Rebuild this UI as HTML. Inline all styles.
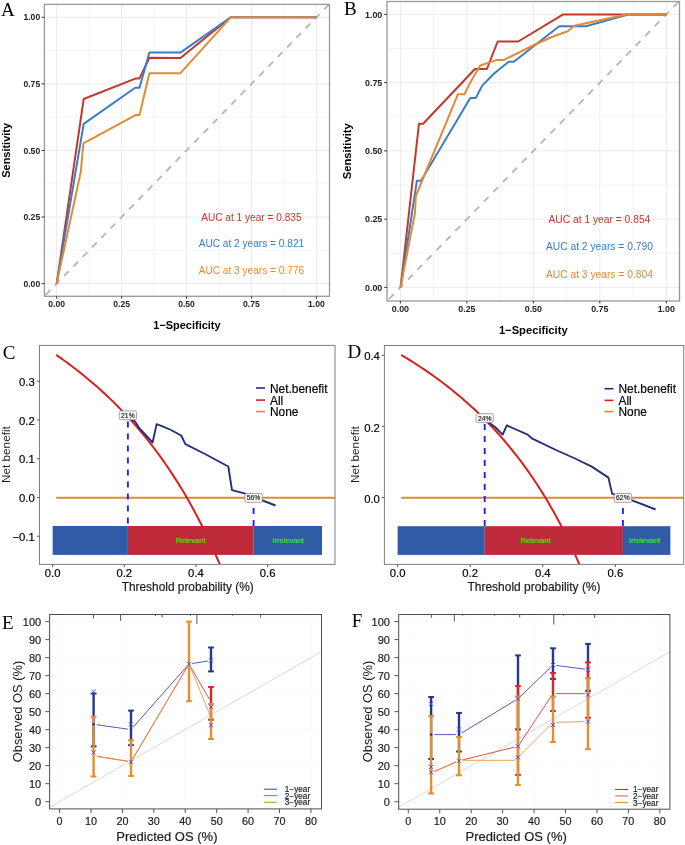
<!DOCTYPE html>
<html><head><meta charset="utf-8"><style>
html,body{margin:0;padding:0;background:#fff;}
svg{display:block;will-change:transform;}
</style></head><body>
<svg width="685" height="845" viewBox="0 0 685 845">
<rect x="0" y="0" width="685" height="845" fill="#fff"/>
<defs><clipPath id="clipA"><rect x="44.4" y="4.4" width="285.1" height="291.9"/></clipPath></defs>
<line x1="56.7" y1="4.4" x2="56.7" y2="296.3" stroke="#ebebeb" stroke-width="1" />
<line x1="44.4" y1="283.6" x2="329.5" y2="283.6" stroke="#ebebeb" stroke-width="1" />
<line x1="89.16" y1="4.4" x2="89.16" y2="296.3" stroke="#ebebeb" stroke-width="0.6" />
<line x1="44.4" y1="250.31" x2="329.5" y2="250.31" stroke="#ebebeb" stroke-width="0.6" />
<line x1="121.62" y1="4.4" x2="121.62" y2="296.3" stroke="#ebebeb" stroke-width="1" />
<line x1="44.4" y1="217.03" x2="329.5" y2="217.03" stroke="#ebebeb" stroke-width="1" />
<line x1="154.09" y1="4.4" x2="154.09" y2="296.3" stroke="#ebebeb" stroke-width="0.6" />
<line x1="44.4" y1="183.74" x2="329.5" y2="183.74" stroke="#ebebeb" stroke-width="0.6" />
<line x1="186.55" y1="4.4" x2="186.55" y2="296.3" stroke="#ebebeb" stroke-width="1" />
<line x1="44.4" y1="150.45" x2="329.5" y2="150.45" stroke="#ebebeb" stroke-width="1" />
<line x1="219.01" y1="4.4" x2="219.01" y2="296.3" stroke="#ebebeb" stroke-width="0.6" />
<line x1="44.4" y1="117.16" x2="329.5" y2="117.16" stroke="#ebebeb" stroke-width="0.6" />
<line x1="251.47" y1="4.4" x2="251.47" y2="296.3" stroke="#ebebeb" stroke-width="1" />
<line x1="44.4" y1="83.88" x2="329.5" y2="83.88" stroke="#ebebeb" stroke-width="1" />
<line x1="283.94" y1="4.4" x2="283.94" y2="296.3" stroke="#ebebeb" stroke-width="0.6" />
<line x1="44.4" y1="50.59" x2="329.5" y2="50.59" stroke="#ebebeb" stroke-width="0.6" />
<line x1="316.4" y1="4.4" x2="316.4" y2="296.3" stroke="#ebebeb" stroke-width="1" />
<line x1="44.4" y1="17.3" x2="329.5" y2="17.3" stroke="#ebebeb" stroke-width="1" />
<g clip-path="url(#clipA)">
<line x1="44.4" y1="296.21" x2="329.5" y2="3.87" stroke="#b5b5b5" stroke-width="1.8" stroke-dasharray="6.8 6.5" stroke-dashoffset="-1.65"/>
<polyline points="56.7,283.6 83.7,99 136,78.4 139.5,78.4 149.4,57.8 180.4,58 230.8,17.3 316.4,17.3" fill="none" stroke="#bf3a2c" stroke-width="2" stroke-linejoin="round" />
<polyline points="56.7,283.6 83.7,123.9 135.2,87.8 139.5,87.8 149.4,52.6 180.4,52.6 230.8,17.3 316.4,17.3" fill="none" stroke="#3b7dc2" stroke-width="2" stroke-linejoin="round" />
<polyline points="56.7,283.6 80.8,171.8 83.4,143.3 136,114.9 139.5,114.9 149.4,73.2 180.4,73.2 230.8,17.3 316.4,17.3" fill="none" stroke="#e38a35" stroke-width="2" stroke-linejoin="round" />
</g>
<rect x="44.4" y="4.4" width="285.1" height="291.9" fill="none" stroke="#999" stroke-width="1.3"/>
<line x1="41.6" y1="283.6" x2="44.4" y2="283.6" stroke="#333" stroke-width="1" />
<text x="40.2" y="286.7" font-size="8.6" fill="#222" text-anchor="end" font-weight="bold" font-family='"Liberation Sans", sans-serif'  >0.00</text>
<line x1="56.7" y1="296.3" x2="56.7" y2="298.8" stroke="#333" stroke-width="1" />
<text x="56.7" y="306.8" font-size="8.6" fill="#222" text-anchor="middle" font-weight="bold" font-family='"Liberation Sans", sans-serif'  >0.00</text>
<line x1="41.6" y1="217.03" x2="44.4" y2="217.03" stroke="#333" stroke-width="1" />
<text x="40.2" y="220.12" font-size="8.6" fill="#222" text-anchor="end" font-weight="bold" font-family='"Liberation Sans", sans-serif'  >0.25</text>
<line x1="121.62" y1="296.3" x2="121.62" y2="298.8" stroke="#333" stroke-width="1" />
<text x="121.62" y="306.8" font-size="8.6" fill="#222" text-anchor="middle" font-weight="bold" font-family='"Liberation Sans", sans-serif'  >0.25</text>
<line x1="41.6" y1="150.45" x2="44.4" y2="150.45" stroke="#333" stroke-width="1" />
<text x="40.2" y="153.55" font-size="8.6" fill="#222" text-anchor="end" font-weight="bold" font-family='"Liberation Sans", sans-serif'  >0.50</text>
<line x1="186.55" y1="296.3" x2="186.55" y2="298.8" stroke="#333" stroke-width="1" />
<text x="186.55" y="306.8" font-size="8.6" fill="#222" text-anchor="middle" font-weight="bold" font-family='"Liberation Sans", sans-serif'  >0.50</text>
<line x1="41.6" y1="83.88" x2="44.4" y2="83.88" stroke="#333" stroke-width="1" />
<text x="40.2" y="86.97" font-size="8.6" fill="#222" text-anchor="end" font-weight="bold" font-family='"Liberation Sans", sans-serif'  >0.75</text>
<line x1="251.47" y1="296.3" x2="251.47" y2="298.8" stroke="#333" stroke-width="1" />
<text x="251.47" y="306.8" font-size="8.6" fill="#222" text-anchor="middle" font-weight="bold" font-family='"Liberation Sans", sans-serif'  >0.75</text>
<line x1="41.6" y1="17.3" x2="44.4" y2="17.3" stroke="#333" stroke-width="1" />
<text x="40.2" y="20.4" font-size="8.6" fill="#222" text-anchor="end" font-weight="bold" font-family='"Liberation Sans", sans-serif'  >1.00</text>
<line x1="316.4" y1="296.3" x2="316.4" y2="298.8" stroke="#333" stroke-width="1" />
<text x="316.4" y="306.8" font-size="8.6" fill="#222" text-anchor="middle" font-weight="bold" font-family='"Liberation Sans", sans-serif'  >1.00</text>
<text x="186.95" y="329" font-size="10.95" fill="#000" text-anchor="middle" font-weight="bold" font-family='"Liberation Sans", sans-serif'  >1&#8722;Specificity</text>
<text x="0" y="0" transform="translate(10.1,150.35) rotate(-90)" font-size="10.95" fill="#000" text-anchor="middle" font-weight="bold" font-family='"Liberation Sans", sans-serif'>Sensitivity</text>
<text x="251.4" y="220.8" font-size="10.15" fill="#bf3a2c" text-anchor="middle" font-weight="normal" font-family='"Liberation Sans", sans-serif'  >AUC at 1 year = 0.835</text>
<text x="251.4" y="247.4" font-size="10.15" fill="#3b7dc2" text-anchor="middle" font-weight="normal" font-family='"Liberation Sans", sans-serif'  >AUC at 2 years = 0.821</text>
<text x="251.4" y="274.2" font-size="10.15" fill="#e38a35" text-anchor="middle" font-weight="normal" font-family='"Liberation Sans", sans-serif'  >AUC at 3 years = 0.776</text>
<text x="0.9" y="15.7" font-size="19" fill="#000" text-anchor="start" font-weight="normal" font-family='"Liberation Serif", serif'  >A</text>
<defs><clipPath id="clipB"><rect x="387" y="1.5" width="292.5" height="299.5"/></clipPath></defs>
<line x1="400.4" y1="1.5" x2="400.4" y2="301" stroke="#ebebeb" stroke-width="1" />
<line x1="387" y1="287.4" x2="679.5" y2="287.4" stroke="#ebebeb" stroke-width="1" />
<line x1="433.64" y1="1.5" x2="433.64" y2="301" stroke="#ebebeb" stroke-width="0.6" />
<line x1="387" y1="253.27" x2="679.5" y2="253.27" stroke="#ebebeb" stroke-width="0.6" />
<line x1="466.88" y1="1.5" x2="466.88" y2="301" stroke="#ebebeb" stroke-width="1" />
<line x1="387" y1="219.15" x2="679.5" y2="219.15" stroke="#ebebeb" stroke-width="1" />
<line x1="500.11" y1="1.5" x2="500.11" y2="301" stroke="#ebebeb" stroke-width="0.6" />
<line x1="387" y1="185.02" x2="679.5" y2="185.02" stroke="#ebebeb" stroke-width="0.6" />
<line x1="533.35" y1="1.5" x2="533.35" y2="301" stroke="#ebebeb" stroke-width="1" />
<line x1="387" y1="150.9" x2="679.5" y2="150.9" stroke="#ebebeb" stroke-width="1" />
<line x1="566.59" y1="1.5" x2="566.59" y2="301" stroke="#ebebeb" stroke-width="0.6" />
<line x1="387" y1="116.77" x2="679.5" y2="116.77" stroke="#ebebeb" stroke-width="0.6" />
<line x1="599.82" y1="1.5" x2="599.82" y2="301" stroke="#ebebeb" stroke-width="1" />
<line x1="387" y1="82.65" x2="679.5" y2="82.65" stroke="#ebebeb" stroke-width="1" />
<line x1="633.06" y1="1.5" x2="633.06" y2="301" stroke="#ebebeb" stroke-width="0.6" />
<line x1="387" y1="48.52" x2="679.5" y2="48.52" stroke="#ebebeb" stroke-width="0.6" />
<line x1="666.3" y1="1.5" x2="666.3" y2="301" stroke="#ebebeb" stroke-width="1" />
<line x1="387" y1="14.4" x2="679.5" y2="14.4" stroke="#ebebeb" stroke-width="1" />
<g clip-path="url(#clipB)">
<line x1="387" y1="301.16" x2="679.5" y2="0.85" stroke="#b5b5b5" stroke-width="1.8" stroke-dasharray="6.9 6.7" stroke-dashoffset="-2.8"/>
<polyline points="400.6,287.4 419,123.7 423.1,123.7 475,69 486.9,69 497.7,41.5 518.2,41.5 563.2,14.4 666.3,14.4" fill="none" stroke="#bf3a2c" stroke-width="2" stroke-linejoin="round" />
<polyline points="400.6,287.4 416.9,180.7 421,180.7 470.3,97.9 475.8,97.9 482.4,85.4 494.1,73.5 508.7,61.8 513.8,61.8 559.2,26.2 585.9,26.2 629,14.4 666.3,14.4" fill="none" stroke="#3b7dc2" stroke-width="2" stroke-linejoin="round" />
<polyline points="400.6,287.4 415,212.7 415.8,196 457.9,94.3 464.5,94.3 470.3,82.4 480.2,65.5 496.3,60.1 503.6,60.1 534.2,45 551.8,37 567.7,31.3 574.3,25.8 626.4,14.4 666.3,14.4" fill="none" stroke="#e38a35" stroke-width="2" stroke-linejoin="round" />
</g>
<rect x="387" y="1.5" width="292.5" height="299.5" fill="none" stroke="#999" stroke-width="1.3"/>
<line x1="384.2" y1="287.4" x2="387" y2="287.4" stroke="#333" stroke-width="1" />
<text x="382.3" y="290.6" font-size="8.9" fill="#222" text-anchor="end" font-weight="bold" font-family='"Liberation Sans", sans-serif'  >0.00</text>
<line x1="400.4" y1="301" x2="400.4" y2="303.5" stroke="#333" stroke-width="1" />
<text x="400.4" y="311.8" font-size="8.9" fill="#222" text-anchor="middle" font-weight="bold" font-family='"Liberation Sans", sans-serif'  >0.00</text>
<line x1="384.2" y1="219.15" x2="387" y2="219.15" stroke="#333" stroke-width="1" />
<text x="382.3" y="222.35" font-size="8.9" fill="#222" text-anchor="end" font-weight="bold" font-family='"Liberation Sans", sans-serif'  >0.25</text>
<line x1="466.88" y1="301" x2="466.88" y2="303.5" stroke="#333" stroke-width="1" />
<text x="466.88" y="311.8" font-size="8.9" fill="#222" text-anchor="middle" font-weight="bold" font-family='"Liberation Sans", sans-serif'  >0.25</text>
<line x1="384.2" y1="150.9" x2="387" y2="150.9" stroke="#333" stroke-width="1" />
<text x="382.3" y="154.1" font-size="8.9" fill="#222" text-anchor="end" font-weight="bold" font-family='"Liberation Sans", sans-serif'  >0.50</text>
<line x1="533.35" y1="301" x2="533.35" y2="303.5" stroke="#333" stroke-width="1" />
<text x="533.35" y="311.8" font-size="8.9" fill="#222" text-anchor="middle" font-weight="bold" font-family='"Liberation Sans", sans-serif'  >0.50</text>
<line x1="384.2" y1="82.65" x2="387" y2="82.65" stroke="#333" stroke-width="1" />
<text x="382.3" y="85.85" font-size="8.9" fill="#222" text-anchor="end" font-weight="bold" font-family='"Liberation Sans", sans-serif'  >0.75</text>
<line x1="599.82" y1="301" x2="599.82" y2="303.5" stroke="#333" stroke-width="1" />
<text x="599.82" y="311.8" font-size="8.9" fill="#222" text-anchor="middle" font-weight="bold" font-family='"Liberation Sans", sans-serif'  >0.75</text>
<line x1="384.2" y1="14.4" x2="387" y2="14.4" stroke="#333" stroke-width="1" />
<text x="382.3" y="17.6" font-size="8.9" fill="#222" text-anchor="end" font-weight="bold" font-family='"Liberation Sans", sans-serif'  >1.00</text>
<line x1="666.3" y1="301" x2="666.3" y2="303.5" stroke="#333" stroke-width="1" />
<text x="666.3" y="311.8" font-size="8.9" fill="#222" text-anchor="middle" font-weight="bold" font-family='"Liberation Sans", sans-serif'  >1.00</text>
<text x="533.25" y="334" font-size="11.2" fill="#000" text-anchor="middle" font-weight="bold" font-family='"Liberation Sans", sans-serif'  >1&#8722;Specificity</text>
<text x="0" y="0" transform="translate(351.4,151.25) rotate(-90)" font-size="11.2" fill="#000" text-anchor="middle" font-weight="bold" font-family='"Liberation Sans", sans-serif'>Sensitivity</text>
<text x="599.4" y="223" font-size="10.27" fill="#bf3a2c" text-anchor="middle" font-weight="normal" font-family='"Liberation Sans", sans-serif'  >AUC at 1 year = 0.854</text>
<text x="599.4" y="250.1" font-size="10.27" fill="#3b7dc2" text-anchor="middle" font-weight="normal" font-family='"Liberation Sans", sans-serif'  >AUC at 2 years = 0.790</text>
<text x="599.4" y="277.9" font-size="10.27" fill="#e38a35" text-anchor="middle" font-weight="normal" font-family='"Liberation Sans", sans-serif'  >AUC at 3 years = 0.804</text>
<text x="343.9" y="15" font-size="19" fill="#000" text-anchor="start" font-weight="normal" font-family='"Liberation Serif", serif'  >B</text>
<defs><clipPath id="clipC"><rect x="39.5" y="345.4" width="295.5" height="219"/></clipPath></defs>
<g clip-path="url(#clipC)">
<line x1="56.23" y1="497.7" x2="335" y2="497.7" stroke="#da8e2f" stroke-width="1.9" />
<polyline points="56.23,354.91 58.02,356.15 59.82,357.41 61.61,358.68 63.4,359.96 65.19,361.25 66.98,362.56 68.77,363.88 70.56,365.22 72.36,366.57 74.15,367.93 75.94,369.31 77.73,370.71 79.52,372.12 81.31,373.54 83.11,374.98 84.9,376.44 86.69,377.91 88.48,379.4 90.27,380.9 92.06,382.43 93.85,383.96 95.65,385.52 97.44,387.1 99.23,388.69 101.02,390.3 102.81,391.93 104.6,393.58 106.4,395.25 108.19,396.93 109.98,398.64 111.77,400.37 113.56,402.12 115.35,403.89 117.14,405.68 118.94,407.5 120.73,409.33 122.52,411.19 124.31,413.07 126.1,414.98 127.89,416.91 129.68,418.86 131.48,420.84 133.27,422.85 135.06,424.88 136.85,426.94 138.64,429.02 140.43,431.14 142.23,433.28 144.02,435.45 145.81,437.65 147.6,439.88 149.39,442.14 151.18,444.43 152.97,446.75 154.77,449.1 156.56,451.49 158.35,453.91 160.14,456.37 161.93,458.86 163.72,461.39 165.51,463.95 167.31,466.56 169.1,469.2 170.89,471.88 172.68,474.6 174.47,477.36 176.26,480.17 178.06,483.01 179.85,485.91 181.64,488.84 183.43,491.82 185.22,494.86 187.01,497.93 188.8,501.06 190.6,504.24 192.39,507.47 194.18,510.76 195.97,514.1 197.76,517.49 199.55,520.95 201.34,524.46 203.14,528.03 204.93,531.67 206.72,535.37 208.51,539.13 210.3,542.96 212.09,546.86 213.89,550.83 215.68,554.88 217.47,559 219.26,563.19 221.05,567.47 222.84,571.83 224.63,576.27 226.43,580.79 228.22,585.41 230.01,590.12 231.8,594.92 233.59,599.82 235.38,604.81 237.17,609.91 238.97,615.12 240.76,620.44 242.55,625.87 244.34,631.42 246.13,637.08 247.92,642.88 249.72,648.8 251.51,654.85 253.3,661.04 255.09,667.38 256.88,673.86 258.67,680.49 260.46,687.28 262.26,694.24 264.05,701.36 265.84,708.66" fill="none" stroke="#d92020" stroke-width="2" stroke-linejoin="round" />
<polyline points="128,416.6 131.5,419.3 135.4,421.9 138.9,427.6 152.6,442.5 156.6,424.1 162.5,426.3 170,429.5 181.2,435.5 185.4,444.2 205,454 228.3,466.5 232,490.1 244.4,493.4 275.5,505.5" fill="none" stroke="#22307a" stroke-width="1.9" stroke-linejoin="round" />
</g>
<rect x="52.65" y="526" width="75.24" height="28.9" fill="#305ca6"/>
<rect x="127.89" y="526" width="125.76" height="28.9" fill="#bf2a3a"/>
<rect x="253.65" y="526" width="68.33" height="28.9" fill="#305ca6"/>
<line x1="127.89" y1="421.41" x2="127.89" y2="526" stroke="#1f1fff" stroke-width="1.9" stroke-dasharray="6 6"/>
<line x1="253.6" y1="508" x2="253.6" y2="526" stroke="#1f1fff" stroke-width="1.9" stroke-dasharray="6 6"/>
<rect x="119.24" y="410.91" width="17.3" height="8.8" rx="1.5" ry="1.5" fill="#fff" stroke="#8c8c8c" stroke-width="0.8"/>
<text x="127.89" y="417.81" font-size="6.8" fill="#222" text-anchor="middle" font-weight="normal" font-family='"Liberation Sans", sans-serif' stroke="#222" stroke-width="0.18" >21%</text>
<rect x="244.95" y="493.5" width="17.3" height="8.8" rx="1.5" ry="1.5" fill="#fff" stroke="#8c8c8c" stroke-width="0.8"/>
<text x="253.6" y="500.4" font-size="6.8" fill="#222" text-anchor="middle" font-weight="normal" font-family='"Liberation Sans", sans-serif' stroke="#222" stroke-width="0.18" >56%</text>
<text x="190.7" y="543.25" font-size="8" fill="#3cff10" text-anchor="middle" font-weight="normal" font-family='"Liberation Sans", sans-serif' stroke="#3cff10" stroke-width="0.18" textLength="30" lengthAdjust="spacingAndGlyphs">Relevant</text>
<text x="288.2" y="543.25" font-size="8" fill="#3cff10" text-anchor="middle" font-weight="normal" font-family='"Liberation Sans", sans-serif' stroke="#3cff10" stroke-width="0.18" textLength="31.5" lengthAdjust="spacingAndGlyphs">Irrelevant</text>
<rect x="39.5" y="345.4" width="295.5" height="219" fill="none" stroke="#808080" stroke-width="1"/>
<line x1="36.9" y1="381.25" x2="39.5" y2="381.25" stroke="#555" stroke-width="1" />
<text x="34.8" y="385.85" font-size="11.3" fill="#000" text-anchor="end" font-weight="normal" font-family='"Liberation Sans", sans-serif' stroke="#000" stroke-width="0.18" >0.3</text>
<line x1="36.9" y1="420" x2="39.5" y2="420" stroke="#555" stroke-width="1" />
<text x="34.8" y="424.6" font-size="11.3" fill="#000" text-anchor="end" font-weight="normal" font-family='"Liberation Sans", sans-serif' stroke="#000" stroke-width="0.18" >0.2</text>
<line x1="36.9" y1="458.75" x2="39.5" y2="458.75" stroke="#555" stroke-width="1" />
<text x="34.8" y="463.35" font-size="11.3" fill="#000" text-anchor="end" font-weight="normal" font-family='"Liberation Sans", sans-serif' stroke="#000" stroke-width="0.18" >0.1</text>
<line x1="36.9" y1="497.5" x2="39.5" y2="497.5" stroke="#555" stroke-width="1" />
<text x="34.8" y="502.1" font-size="11.3" fill="#000" text-anchor="end" font-weight="normal" font-family='"Liberation Sans", sans-serif' stroke="#000" stroke-width="0.18" >0.0</text>
<line x1="36.9" y1="536.25" x2="39.5" y2="536.25" stroke="#555" stroke-width="1" />
<text x="34.8" y="540.85" font-size="11.3" fill="#000" text-anchor="end" font-weight="normal" font-family='"Liberation Sans", sans-serif' stroke="#000" stroke-width="0.18" >&#8722;0.1</text>
<line x1="52.65" y1="564.4" x2="52.65" y2="567" stroke="#555" stroke-width="1" />
<text x="52.65" y="577.4" font-size="11.3" fill="#000" text-anchor="middle" font-weight="normal" font-family='"Liberation Sans", sans-serif' stroke="#000" stroke-width="0.18" >0.0</text>
<line x1="124.31" y1="564.4" x2="124.31" y2="567" stroke="#555" stroke-width="1" />
<text x="124.31" y="577.4" font-size="11.3" fill="#000" text-anchor="middle" font-weight="normal" font-family='"Liberation Sans", sans-serif' stroke="#000" stroke-width="0.18" >0.2</text>
<line x1="195.97" y1="564.4" x2="195.97" y2="567" stroke="#555" stroke-width="1" />
<text x="195.97" y="577.4" font-size="11.3" fill="#000" text-anchor="middle" font-weight="normal" font-family='"Liberation Sans", sans-serif' stroke="#000" stroke-width="0.18" >0.4</text>
<line x1="267.63" y1="564.4" x2="267.63" y2="567" stroke="#555" stroke-width="1" />
<text x="267.63" y="577.4" font-size="11.3" fill="#000" text-anchor="middle" font-weight="normal" font-family='"Liberation Sans", sans-serif' stroke="#000" stroke-width="0.18" >0.6</text>
<text x="121.7" y="590.8" font-size="11.9" fill="#1a1a1a" text-anchor="start" font-weight="normal" font-family='"Liberation Sans", sans-serif' stroke="#1a1a1a" stroke-width="0.18" textLength="132.0" lengthAdjust="spacingAndGlyphs">Threshold probability (%)</text>
<text x="0" y="0" transform="translate(10.2,454.6) rotate(-90)" font-size="11.6" fill="#1a1a1a" text-anchor="middle" font-family='"Liberation Sans", sans-serif' textLength="56.9" lengthAdjust="spacingAndGlyphs">Net benefit</text>
<line x1="256" y1="388" x2="265" y2="388" stroke="#22307a" stroke-width="1.6" />
<text x="270" y="392.5" font-size="11.9" fill="#000" text-anchor="start" font-weight="normal" font-family='"Liberation Sans", sans-serif' stroke="#000" stroke-width="0.18" >Net.benefit</text>
<line x1="256" y1="400.1" x2="265" y2="400.1" stroke="#d92020" stroke-width="1.6" />
<text x="270" y="404.6" font-size="11.9" fill="#000" text-anchor="start" font-weight="normal" font-family='"Liberation Sans", sans-serif' stroke="#000" stroke-width="0.18" >All</text>
<line x1="256" y1="411.6" x2="265" y2="411.6" stroke="#da8e2f" stroke-width="1.6" />
<text x="270" y="416.1" font-size="11.9" fill="#000" text-anchor="start" font-weight="normal" font-family='"Liberation Sans", sans-serif' stroke="#000" stroke-width="0.18" >None</text>
<text x="2.8" y="359" font-size="19" fill="#000" text-anchor="start" font-weight="normal" font-family='"Liberation Serif", serif'  >C</text>
<defs><clipPath id="clipD"><rect x="384.4" y="345.5" width="299.3" height="218.9"/></clipPath></defs>
<g clip-path="url(#clipD)">
<line x1="401.23" y1="497.7" x2="683.7" y2="497.7" stroke="#da8e2f" stroke-width="1.9" />
<polyline points="401.23,354.94 403.04,356.02 404.86,357.11 406.67,358.22 408.49,359.33 410.3,360.46 412.12,361.6 413.93,362.75 415.75,363.91 417.56,365.08 419.37,366.27 421.19,367.47 423,368.68 424.82,369.9 426.63,371.14 428.45,372.4 430.26,373.66 432.08,374.94 433.89,376.24 435.7,377.54 437.52,378.87 439.33,380.21 441.15,381.56 442.96,382.93 444.78,384.31 446.59,385.71 448.41,387.13 450.22,388.56 452.04,390.01 453.85,391.48 455.66,392.97 457.48,394.47 459.29,395.99 461.11,397.53 462.92,399.09 464.74,400.66 466.55,402.26 468.37,403.88 470.18,405.51 471.99,407.17 473.81,408.85 475.62,410.55 477.44,412.27 479.25,414.01 481.07,415.78 482.88,417.57 484.7,419.38 486.51,421.22 488.33,423.08 490.14,424.97 491.95,426.88 493.77,428.82 495.58,430.78 497.4,432.77 499.21,434.79 501.03,436.84 502.84,438.92 504.66,441.02 506.47,443.16 508.28,445.33 510.1,447.52 511.91,449.75 513.73,452.02 515.54,454.31 517.36,456.64 519.17,459.01 520.99,461.41 522.8,463.85 524.62,466.33 526.43,468.84 528.24,471.39 530.06,473.99 531.87,476.62 533.69,479.3 535.5,482.02 537.32,484.78 539.13,487.59 540.95,490.45 542.76,493.35 544.57,496.31 546.39,499.31 548.2,502.36 550.02,505.47 551.83,508.63 553.65,511.84 555.46,515.12 557.28,518.45 559.09,521.84 560.91,525.29 562.72,528.81 564.53,532.39 566.35,536.04 568.16,539.76 569.98,543.55 571.79,547.41 573.61,551.34 575.42,555.36 577.24,559.45 579.05,563.62 580.86,567.88 582.68,572.23 584.49,576.66 586.31,581.19 588.12,585.81 589.94,590.54 591.75,595.36 593.57,600.29 595.38,605.32 597.2,610.47 599.01,615.73 600.82,621.12 602.64,626.62 604.45,632.26 606.27,638.03 608.08,643.93 609.9,649.98 611.71,656.17 613.53,662.52" fill="none" stroke="#d92020" stroke-width="2" stroke-linejoin="round" />
<polyline points="484.8,419.4 488.4,422.4 495,427 502.7,434.6 506.8,425.4 516,429.5 527.7,434.6 532.3,438.7 556,450 575,458.5 591.8,466.6 608.4,477.6 612.2,493.9 622.4,496.7 655.6,509.5" fill="none" stroke="#22307a" stroke-width="1.9" stroke-linejoin="round" />
</g>
<rect x="397.6" y="526.2" width="87.1" height="28.7" fill="#305ca6"/>
<rect x="484.7" y="526.2" width="138.25" height="28.7" fill="#bf2a3a"/>
<rect x="622.95" y="526.2" width="47.43" height="28.7" fill="#305ca6"/>
<line x1="484.7" y1="423.88" x2="484.7" y2="526.2" stroke="#1f1fff" stroke-width="1.9" stroke-dasharray="6 6"/>
<line x1="622.9" y1="508" x2="622.9" y2="526.2" stroke="#1f1fff" stroke-width="1.9" stroke-dasharray="6 6"/>
<rect x="476.05" y="413.78" width="17.3" height="8.8" rx="1.5" ry="1.5" fill="#fff" stroke="#8c8c8c" stroke-width="0.8"/>
<text x="484.7" y="420.68" font-size="6.8" fill="#222" text-anchor="middle" font-weight="normal" font-family='"Liberation Sans", sans-serif' stroke="#222" stroke-width="0.18" >24%</text>
<rect x="614.25" y="493.5" width="17.3" height="8.8" rx="1.5" ry="1.5" fill="#fff" stroke="#8c8c8c" stroke-width="0.8"/>
<text x="622.9" y="500.4" font-size="6.8" fill="#222" text-anchor="middle" font-weight="normal" font-family='"Liberation Sans", sans-serif' stroke="#222" stroke-width="0.18" >62%</text>
<text x="535.5" y="543.35" font-size="8" fill="#3cff10" text-anchor="middle" font-weight="normal" font-family='"Liberation Sans", sans-serif' stroke="#3cff10" stroke-width="0.18" textLength="30" lengthAdjust="spacingAndGlyphs">Relevant</text>
<text x="644.6" y="543.35" font-size="8" fill="#3cff10" text-anchor="middle" font-weight="normal" font-family='"Liberation Sans", sans-serif' stroke="#3cff10" stroke-width="0.18" textLength="31.5" lengthAdjust="spacingAndGlyphs">Irrelevant</text>
<rect x="384.4" y="345.5" width="299.3" height="218.9" fill="none" stroke="#808080" stroke-width="1"/>
<line x1="381.8" y1="355.3" x2="384.4" y2="355.3" stroke="#555" stroke-width="1" />
<text x="379.9" y="360.4" font-size="11.3" fill="#000" text-anchor="end" font-weight="normal" font-family='"Liberation Sans", sans-serif' stroke="#000" stroke-width="0.18" >0.4</text>
<line x1="381.8" y1="426.4" x2="384.4" y2="426.4" stroke="#555" stroke-width="1" />
<text x="379.9" y="431.5" font-size="11.3" fill="#000" text-anchor="end" font-weight="normal" font-family='"Liberation Sans", sans-serif' stroke="#000" stroke-width="0.18" >0.2</text>
<line x1="381.8" y1="497.5" x2="384.4" y2="497.5" stroke="#555" stroke-width="1" />
<text x="379.9" y="502.6" font-size="11.3" fill="#000" text-anchor="end" font-weight="normal" font-family='"Liberation Sans", sans-serif' stroke="#000" stroke-width="0.18" >0.0</text>
<line x1="397.6" y1="564.4" x2="397.6" y2="567" stroke="#555" stroke-width="1" />
<text x="397.6" y="577.4" font-size="11.3" fill="#000" text-anchor="middle" font-weight="normal" font-family='"Liberation Sans", sans-serif' stroke="#000" stroke-width="0.18" >0.0</text>
<line x1="470.18" y1="564.4" x2="470.18" y2="567" stroke="#555" stroke-width="1" />
<text x="470.18" y="577.4" font-size="11.3" fill="#000" text-anchor="middle" font-weight="normal" font-family='"Liberation Sans", sans-serif' stroke="#000" stroke-width="0.18" >0.2</text>
<line x1="542.76" y1="564.4" x2="542.76" y2="567" stroke="#555" stroke-width="1" />
<text x="542.76" y="577.4" font-size="11.3" fill="#000" text-anchor="middle" font-weight="normal" font-family='"Liberation Sans", sans-serif' stroke="#000" stroke-width="0.18" >0.4</text>
<line x1="615.34" y1="564.4" x2="615.34" y2="567" stroke="#555" stroke-width="1" />
<text x="615.34" y="577.4" font-size="11.3" fill="#000" text-anchor="middle" font-weight="normal" font-family='"Liberation Sans", sans-serif' stroke="#000" stroke-width="0.18" >0.6</text>
<text x="467.5" y="590.8" font-size="11.9" fill="#1a1a1a" text-anchor="start" font-weight="normal" font-family='"Liberation Sans", sans-serif' stroke="#1a1a1a" stroke-width="0.18" textLength="133.0" lengthAdjust="spacingAndGlyphs">Threshold probability (%)</text>
<text x="0" y="0" transform="translate(358.8,454.6) rotate(-90)" font-size="11.6" fill="#1a1a1a" text-anchor="middle" font-family='"Liberation Sans", sans-serif' textLength="56.9" lengthAdjust="spacingAndGlyphs">Net benefit</text>
<line x1="604.5" y1="388.7" x2="613.5" y2="388.7" stroke="#22307a" stroke-width="1.6" />
<text x="618.5" y="393.2" font-size="11.9" fill="#000" text-anchor="start" font-weight="normal" font-family='"Liberation Sans", sans-serif' stroke="#000" stroke-width="0.18" >Net.benefit</text>
<line x1="604.5" y1="400.4" x2="613.5" y2="400.4" stroke="#d92020" stroke-width="1.6" />
<text x="618.5" y="404.9" font-size="11.9" fill="#000" text-anchor="start" font-weight="normal" font-family='"Liberation Sans", sans-serif' stroke="#000" stroke-width="0.18" >All</text>
<line x1="604.5" y1="411.6" x2="613.5" y2="411.6" stroke="#da8e2f" stroke-width="1.6" />
<text x="618.5" y="416.1" font-size="11.9" fill="#000" text-anchor="start" font-weight="normal" font-family='"Liberation Sans", sans-serif' stroke="#000" stroke-width="0.18" >None</text>
<text x="347.5" y="357.7" font-size="19" fill="#000" text-anchor="start" font-weight="normal" font-family='"Liberation Serif", serif'  >D</text>
<defs><clipPath id="clipE"><rect x="49.6" y="614.5" width="271.9" height="194.4"/></clipPath></defs>
<line x1="49.6" y1="801.7" x2="321.5" y2="801.7" stroke="#ededed" stroke-width="0.7" stroke-dasharray="1 2"/>
<line x1="49.6" y1="765.68" x2="321.5" y2="765.68" stroke="#ededed" stroke-width="0.7" stroke-dasharray="1 2"/>
<line x1="49.6" y1="729.66" x2="321.5" y2="729.66" stroke="#ededed" stroke-width="0.7" stroke-dasharray="1 2"/>
<line x1="49.6" y1="693.64" x2="321.5" y2="693.64" stroke="#ededed" stroke-width="0.7" stroke-dasharray="1 2"/>
<line x1="49.6" y1="657.62" x2="321.5" y2="657.62" stroke="#ededed" stroke-width="0.7" stroke-dasharray="1 2"/>
<line x1="49.6" y1="621.6" x2="321.5" y2="621.6" stroke="#ededed" stroke-width="0.7" stroke-dasharray="1 2"/>
<line x1="59.6" y1="614.5" x2="59.6" y2="808.9" stroke="#ededed" stroke-width="0.7" stroke-dasharray="1 2"/>
<line x1="122.43" y1="614.5" x2="122.43" y2="808.9" stroke="#ededed" stroke-width="0.7" stroke-dasharray="1 2"/>
<line x1="185.26" y1="614.5" x2="185.26" y2="808.9" stroke="#ededed" stroke-width="0.7" stroke-dasharray="1 2"/>
<line x1="248.09" y1="614.5" x2="248.09" y2="808.9" stroke="#ededed" stroke-width="0.7" stroke-dasharray="1 2"/>
<line x1="310.92" y1="614.5" x2="310.92" y2="808.9" stroke="#ededed" stroke-width="0.7" stroke-dasharray="1 2"/>
<g clip-path="url(#clipE)">
<line x1="49.6" y1="807.43" x2="321.5" y2="651.55" stroke="#cfcfcf" stroke-width="0.8" />
</g>
<line x1="96.76" y1="756.31" x2="127.84" y2="761.29" stroke="#de3a3a" stroke-width="0.9" />
<line x1="132.63" y1="759.05" x2="187.37" y2="666.75" stroke="#de3a3a" stroke-width="0.9" />
<line x1="190.6" y1="666.77" x2="209.4" y2="699.23" stroke="#de3a3a" stroke-width="0.9" />
<line x1="96.76" y1="756.31" x2="127.84" y2="761.29" stroke="#e69a45" stroke-width="0.9" />
<line x1="132.63" y1="759.05" x2="187.37" y2="666.75" stroke="#e69a45" stroke-width="0.9" />
<line x1="190.21" y1="666.96" x2="209.79" y2="714.74" stroke="#e69a45" stroke-width="0.9" />
<line x1="96.77" y1="724.75" x2="127.83" y2="729.15" stroke="#3a4aa8" stroke-width="0.9" />
<line x1="133.12" y1="727.2" x2="186.88" y2="666.4" stroke="#3a4aa8" stroke-width="0.9" />
<line x1="192.16" y1="663.5" x2="207.84" y2="661" stroke="#3a4aa8" stroke-width="0.9" />
<line x1="93.6" y1="693.5" x2="93.6" y2="746.4" stroke="#26378c" stroke-width="2.4" />
<line x1="90.7" y1="693.5" x2="96.5" y2="693.5" stroke="#26378c" stroke-width="2" />
<line x1="90.7" y1="746.4" x2="96.5" y2="746.4" stroke="#26378c" stroke-width="2" />
<line x1="93.6" y1="716.8" x2="93.6" y2="776.5" stroke="#e18f2f" stroke-width="2.4" />
<line x1="90.7" y1="716.8" x2="96.5" y2="716.8" stroke="#e18f2f" stroke-width="2" />
<line x1="90.7" y1="776.5" x2="96.5" y2="776.5" stroke="#e18f2f" stroke-width="2" />
<line x1="131" y1="710.6" x2="131" y2="745.2" stroke="#26378c" stroke-width="2.4" />
<line x1="128.1" y1="710.6" x2="133.9" y2="710.6" stroke="#26378c" stroke-width="2" />
<line x1="128.1" y1="745.2" x2="133.9" y2="745.2" stroke="#26378c" stroke-width="2" />
<line x1="131" y1="740.3" x2="131" y2="776" stroke="#e18f2f" stroke-width="2.4" />
<line x1="128.1" y1="740.3" x2="133.9" y2="740.3" stroke="#e18f2f" stroke-width="2" />
<line x1="128.1" y1="776" x2="133.9" y2="776" stroke="#e18f2f" stroke-width="2" />
<line x1="189" y1="621.6" x2="189" y2="701.2" stroke="#e18f2f" stroke-width="2.4" />
<line x1="186.1" y1="621.6" x2="191.9" y2="621.6" stroke="#e18f2f" stroke-width="2" />
<line x1="186.1" y1="701.2" x2="191.9" y2="701.2" stroke="#e18f2f" stroke-width="2" />
<line x1="211" y1="647.5" x2="211" y2="671.4" stroke="#26378c" stroke-width="2.4" />
<line x1="208.1" y1="647.5" x2="213.9" y2="647.5" stroke="#26378c" stroke-width="2" />
<line x1="208.1" y1="671.4" x2="213.9" y2="671.4" stroke="#26378c" stroke-width="2" />
<line x1="211" y1="687" x2="211" y2="719.7" stroke="#d8282c" stroke-width="2.4" />
<line x1="208.1" y1="687" x2="213.9" y2="687" stroke="#d8282c" stroke-width="2" />
<line x1="208.1" y1="719.7" x2="213.9" y2="719.7" stroke="#d8282c" stroke-width="2" />
<line x1="211" y1="704" x2="211" y2="739" stroke="#e18f2f" stroke-width="2.4" />
<line x1="208.1" y1="704" x2="213.9" y2="704" stroke="#e18f2f" stroke-width="2" />
<line x1="208.1" y1="739" x2="213.9" y2="739" stroke="#e18f2f" stroke-width="2" />
<circle cx="93.6" cy="724.3" r="1.3" fill="#26378c"/>
<circle cx="131" cy="729.6" r="1.3" fill="#26378c"/>
<line x1="91.5" y1="689.4" x2="95.7" y2="693.6" stroke="#4848e8" stroke-width="0.9" />
<line x1="91.5" y1="693.6" x2="95.7" y2="689.4" stroke="#4848e8" stroke-width="0.9" />
<line x1="91.5" y1="750.3" x2="95.7" y2="754.5" stroke="#4848e8" stroke-width="0.9" />
<line x1="91.5" y1="754.5" x2="95.7" y2="750.3" stroke="#4848e8" stroke-width="0.9" />
<line x1="128.9" y1="722.2" x2="133.1" y2="726.4" stroke="#4848e8" stroke-width="0.9" />
<line x1="128.9" y1="726.4" x2="133.1" y2="722.2" stroke="#4848e8" stroke-width="0.9" />
<line x1="128.9" y1="759.8" x2="133.1" y2="764" stroke="#4848e8" stroke-width="0.9" />
<line x1="128.9" y1="764" x2="133.1" y2="759.8" stroke="#4848e8" stroke-width="0.9" />
<line x1="186.9" y1="661.9" x2="191.1" y2="666.1" stroke="#4848e8" stroke-width="0.9" />
<line x1="186.9" y1="666.1" x2="191.1" y2="661.9" stroke="#4848e8" stroke-width="0.9" />
<line x1="208.9" y1="658.4" x2="213.1" y2="662.6" stroke="#4848e8" stroke-width="0.9" />
<line x1="208.9" y1="662.6" x2="213.1" y2="658.4" stroke="#4848e8" stroke-width="0.9" />
<line x1="208.9" y1="704.9" x2="213.1" y2="709.1" stroke="#4848e8" stroke-width="0.9" />
<line x1="208.9" y1="709.1" x2="213.1" y2="704.9" stroke="#4848e8" stroke-width="0.9" />
<line x1="208.9" y1="723.1" x2="213.1" y2="727.3" stroke="#4848e8" stroke-width="0.9" />
<line x1="208.9" y1="727.3" x2="213.1" y2="723.1" stroke="#4848e8" stroke-width="0.9" />
<rect x="49.6" y="614.5" width="271.9" height="194.4" fill="none" stroke="#4d4d4d" stroke-width="1"/>
<line x1="93.4" y1="614.5" x2="93.4" y2="618.5" stroke="#555" stroke-width="1" />
<line x1="120.6" y1="614.5" x2="120.6" y2="620.9" stroke="#555" stroke-width="1" />
<line x1="155.4" y1="614.5" x2="155.4" y2="616" stroke="#555" stroke-width="1" />
<line x1="162.1" y1="614.5" x2="162.1" y2="617.5" stroke="#555" stroke-width="1" />
<line x1="190.5" y1="614.5" x2="190.5" y2="615.7" stroke="#555" stroke-width="1" />
<line x1="196.9" y1="614.5" x2="196.9" y2="623.9" stroke="#555" stroke-width="1" />
<line x1="232.4" y1="614.5" x2="232.4" y2="615.7" stroke="#555" stroke-width="1" />
<line x1="260.6" y1="614.5" x2="260.6" y2="617.5" stroke="#555" stroke-width="1" />
<line x1="45.3" y1="801.7" x2="49.6" y2="801.7" stroke="#555" stroke-width="1" />
<text x="41.2" y="806.3" font-size="11" fill="#1a1a1a" text-anchor="end" font-weight="normal" font-family='"Liberation Sans", sans-serif' stroke="#1a1a1a" stroke-width="0.18" >0</text>
<line x1="45.3" y1="783.69" x2="49.6" y2="783.69" stroke="#555" stroke-width="1" />
<text x="41.2" y="788.29" font-size="11" fill="#1a1a1a" text-anchor="end" font-weight="normal" font-family='"Liberation Sans", sans-serif' stroke="#1a1a1a" stroke-width="0.18" >10</text>
<line x1="45.3" y1="765.68" x2="49.6" y2="765.68" stroke="#555" stroke-width="1" />
<text x="41.2" y="770.28" font-size="11" fill="#1a1a1a" text-anchor="end" font-weight="normal" font-family='"Liberation Sans", sans-serif' stroke="#1a1a1a" stroke-width="0.18" >20</text>
<line x1="45.3" y1="747.67" x2="49.6" y2="747.67" stroke="#555" stroke-width="1" />
<text x="41.2" y="752.27" font-size="11" fill="#1a1a1a" text-anchor="end" font-weight="normal" font-family='"Liberation Sans", sans-serif' stroke="#1a1a1a" stroke-width="0.18" >30</text>
<line x1="45.3" y1="729.66" x2="49.6" y2="729.66" stroke="#555" stroke-width="1" />
<text x="41.2" y="734.26" font-size="11" fill="#1a1a1a" text-anchor="end" font-weight="normal" font-family='"Liberation Sans", sans-serif' stroke="#1a1a1a" stroke-width="0.18" >40</text>
<line x1="45.3" y1="711.65" x2="49.6" y2="711.65" stroke="#555" stroke-width="1" />
<text x="41.2" y="716.25" font-size="11" fill="#1a1a1a" text-anchor="end" font-weight="normal" font-family='"Liberation Sans", sans-serif' stroke="#1a1a1a" stroke-width="0.18" >50</text>
<line x1="45.3" y1="693.64" x2="49.6" y2="693.64" stroke="#555" stroke-width="1" />
<text x="41.2" y="698.24" font-size="11" fill="#1a1a1a" text-anchor="end" font-weight="normal" font-family='"Liberation Sans", sans-serif' stroke="#1a1a1a" stroke-width="0.18" >60</text>
<line x1="45.3" y1="675.63" x2="49.6" y2="675.63" stroke="#555" stroke-width="1" />
<text x="41.2" y="680.23" font-size="11" fill="#1a1a1a" text-anchor="end" font-weight="normal" font-family='"Liberation Sans", sans-serif' stroke="#1a1a1a" stroke-width="0.18" >70</text>
<line x1="45.3" y1="657.62" x2="49.6" y2="657.62" stroke="#555" stroke-width="1" />
<text x="41.2" y="662.22" font-size="11" fill="#1a1a1a" text-anchor="end" font-weight="normal" font-family='"Liberation Sans", sans-serif' stroke="#1a1a1a" stroke-width="0.18" >80</text>
<line x1="45.3" y1="639.61" x2="49.6" y2="639.61" stroke="#555" stroke-width="1" />
<text x="41.2" y="644.21" font-size="11" fill="#1a1a1a" text-anchor="end" font-weight="normal" font-family='"Liberation Sans", sans-serif' stroke="#1a1a1a" stroke-width="0.18" >90</text>
<line x1="45.3" y1="621.6" x2="49.6" y2="621.6" stroke="#555" stroke-width="1" />
<text x="41.2" y="626.2" font-size="11" fill="#1a1a1a" text-anchor="end" font-weight="normal" font-family='"Liberation Sans", sans-serif' stroke="#1a1a1a" stroke-width="0.18" >100</text>
<line x1="59.6" y1="808.9" x2="59.6" y2="813.1" stroke="#555" stroke-width="1" />
<text x="59.6" y="824.7" font-size="10.8" fill="#1a1a1a" text-anchor="middle" font-weight="normal" font-family='"Liberation Sans", sans-serif' stroke="#1a1a1a" stroke-width="0.18" >0</text>
<line x1="91.02" y1="808.9" x2="91.02" y2="813.1" stroke="#555" stroke-width="1" />
<text x="91.02" y="824.7" font-size="10.8" fill="#1a1a1a" text-anchor="middle" font-weight="normal" font-family='"Liberation Sans", sans-serif' stroke="#1a1a1a" stroke-width="0.18" >10</text>
<line x1="122.43" y1="808.9" x2="122.43" y2="813.1" stroke="#555" stroke-width="1" />
<text x="122.43" y="824.7" font-size="10.8" fill="#1a1a1a" text-anchor="middle" font-weight="normal" font-family='"Liberation Sans", sans-serif' stroke="#1a1a1a" stroke-width="0.18" >20</text>
<line x1="153.84" y1="808.9" x2="153.84" y2="813.1" stroke="#555" stroke-width="1" />
<text x="153.84" y="824.7" font-size="10.8" fill="#1a1a1a" text-anchor="middle" font-weight="normal" font-family='"Liberation Sans", sans-serif' stroke="#1a1a1a" stroke-width="0.18" >30</text>
<line x1="185.26" y1="808.9" x2="185.26" y2="813.1" stroke="#555" stroke-width="1" />
<text x="185.26" y="824.7" font-size="10.8" fill="#1a1a1a" text-anchor="middle" font-weight="normal" font-family='"Liberation Sans", sans-serif' stroke="#1a1a1a" stroke-width="0.18" >40</text>
<line x1="216.68" y1="808.9" x2="216.68" y2="813.1" stroke="#555" stroke-width="1" />
<text x="216.68" y="824.7" font-size="10.8" fill="#1a1a1a" text-anchor="middle" font-weight="normal" font-family='"Liberation Sans", sans-serif' stroke="#1a1a1a" stroke-width="0.18" >50</text>
<line x1="248.09" y1="808.9" x2="248.09" y2="813.1" stroke="#555" stroke-width="1" />
<text x="248.09" y="824.7" font-size="10.8" fill="#1a1a1a" text-anchor="middle" font-weight="normal" font-family='"Liberation Sans", sans-serif' stroke="#1a1a1a" stroke-width="0.18" >60</text>
<line x1="279.5" y1="808.9" x2="279.5" y2="813.1" stroke="#555" stroke-width="1" />
<text x="279.5" y="824.7" font-size="10.8" fill="#1a1a1a" text-anchor="middle" font-weight="normal" font-family='"Liberation Sans", sans-serif' stroke="#1a1a1a" stroke-width="0.18" >70</text>
<line x1="310.92" y1="808.9" x2="310.92" y2="813.1" stroke="#555" stroke-width="1" />
<text x="310.92" y="824.7" font-size="10.8" fill="#1a1a1a" text-anchor="middle" font-weight="normal" font-family='"Liberation Sans", sans-serif' stroke="#1a1a1a" stroke-width="0.18" >80</text>
<text x="116.3" y="840.7" font-size="13" fill="#1a1a1a" text-anchor="start" font-weight="normal" font-family='"Liberation Sans", sans-serif' stroke="#1a1a1a" stroke-width="0.18" textLength="101.2" lengthAdjust="spacingAndGlyphs">Predicted OS (%)</text>
<text x="0" y="0" transform="translate(22,711.5) rotate(-90)" font-size="12.9" fill="#1a1a1a" text-anchor="middle" font-family='"Liberation Sans", sans-serif' textLength="101.5" lengthAdjust="spacingAndGlyphs">Observed OS (%)</text>
<line x1="264" y1="789.2" x2="277" y2="789.2" stroke="#4a55a8" stroke-width="1.1" />
<text x="284.8" y="792.1" font-size="8.2" fill="#222" text-anchor="start" font-weight="normal" font-family='"Liberation Sans", sans-serif' stroke="#222" stroke-width="0.18" textLength="25.4" lengthAdjust="spacingAndGlyphs">1&#8722;year</text>
<line x1="264" y1="795.6" x2="277" y2="795.6" stroke="#e0606c" stroke-width="1.1" />
<text x="284.8" y="798.5" font-size="8.2" fill="#222" text-anchor="start" font-weight="normal" font-family='"Liberation Sans", sans-serif' stroke="#222" stroke-width="0.18" textLength="25.4" lengthAdjust="spacingAndGlyphs">2&#8722;year</text>
<line x1="264" y1="802.3" x2="277" y2="802.3" stroke="#d9923a" stroke-width="1.1" />
<text x="284.8" y="805.2" font-size="8.2" fill="#222" text-anchor="start" font-weight="normal" font-family='"Liberation Sans", sans-serif' stroke="#222" stroke-width="0.18" textLength="25.4" lengthAdjust="spacingAndGlyphs">3&#8722;year</text>
<text x="1.9" y="629" font-size="19" fill="#000" text-anchor="start" font-weight="normal" font-family='"Liberation Serif", serif'  >E</text>
<defs><clipPath id="clipF"><rect x="398.7" y="614.5" width="271.2" height="194.7"/></clipPath></defs>
<line x1="398.7" y1="801.7" x2="669.9" y2="801.7" stroke="#ededed" stroke-width="0.7" stroke-dasharray="1 2"/>
<line x1="398.7" y1="765.68" x2="669.9" y2="765.68" stroke="#ededed" stroke-width="0.7" stroke-dasharray="1 2"/>
<line x1="398.7" y1="729.66" x2="669.9" y2="729.66" stroke="#ededed" stroke-width="0.7" stroke-dasharray="1 2"/>
<line x1="398.7" y1="693.64" x2="669.9" y2="693.64" stroke="#ededed" stroke-width="0.7" stroke-dasharray="1 2"/>
<line x1="398.7" y1="657.62" x2="669.9" y2="657.62" stroke="#ededed" stroke-width="0.7" stroke-dasharray="1 2"/>
<line x1="398.7" y1="621.6" x2="669.9" y2="621.6" stroke="#ededed" stroke-width="0.7" stroke-dasharray="1 2"/>
<line x1="408.3" y1="614.5" x2="408.3" y2="809.2" stroke="#ededed" stroke-width="0.7" stroke-dasharray="1 2"/>
<line x1="471.18" y1="614.5" x2="471.18" y2="809.2" stroke="#ededed" stroke-width="0.7" stroke-dasharray="1 2"/>
<line x1="534.06" y1="614.5" x2="534.06" y2="809.2" stroke="#ededed" stroke-width="0.7" stroke-dasharray="1 2"/>
<line x1="596.94" y1="614.5" x2="596.94" y2="809.2" stroke="#ededed" stroke-width="0.7" stroke-dasharray="1 2"/>
<line x1="659.82" y1="614.5" x2="659.82" y2="809.2" stroke="#ededed" stroke-width="0.7" stroke-dasharray="1 2"/>
<g clip-path="url(#clipF)">
<line x1="398.7" y1="807.2" x2="669.9" y2="651.85" stroke="#cfcfcf" stroke-width="0.8" />
</g>
<line x1="434.03" y1="771.72" x2="456.07" y2="762.08" stroke="#de3a3a" stroke-width="0.9" />
<line x1="462.11" y1="760.04" x2="514.89" y2="747.06" stroke="#de3a3a" stroke-width="0.9" />
<line x1="519.77" y1="743.63" x2="551.23" y2="696.27" stroke="#de3a3a" stroke-width="0.9" />
<line x1="556.2" y1="693.6" x2="584.8" y2="693.6" stroke="#de3a3a" stroke-width="0.9" />
<line x1="434.01" y1="771.67" x2="456.09" y2="761.63" stroke="#e69a45" stroke-width="0.9" />
<line x1="462.2" y1="760.3" x2="514.8" y2="760.3" stroke="#e69a45" stroke-width="0.9" />
<line x1="520.26" y1="755.14" x2="550.74" y2="724.66" stroke="#e69a45" stroke-width="0.9" />
<line x1="556.2" y1="722.32" x2="584.8" y2="721.58" stroke="#e69a45" stroke-width="0.9" />
<line x1="434.3" y1="734.6" x2="455.8" y2="734.6" stroke="#3a4aa8" stroke-width="0.9" />
<line x1="461.73" y1="732.94" x2="515.27" y2="700.36" stroke="#3a4aa8" stroke-width="0.9" />
<line x1="520.31" y1="696.48" x2="550.69" y2="667.22" stroke="#3a4aa8" stroke-width="0.9" />
<line x1="556.17" y1="665.42" x2="584.83" y2="669.18" stroke="#3a4aa8" stroke-width="0.9" />
<line x1="431.1" y1="697" x2="431.1" y2="758.9" stroke="#26378c" stroke-width="2.4" />
<line x1="428.2" y1="697" x2="434" y2="697" stroke="#26378c" stroke-width="2" />
<line x1="428.2" y1="758.9" x2="434" y2="758.9" stroke="#26378c" stroke-width="2" />
<line x1="431.1" y1="716.1" x2="431.1" y2="793.5" stroke="#e18f2f" stroke-width="2.4" />
<line x1="428.2" y1="716.1" x2="434" y2="716.1" stroke="#e18f2f" stroke-width="2" />
<line x1="428.2" y1="793.5" x2="434" y2="793.5" stroke="#e18f2f" stroke-width="2" />
<line x1="459" y1="712.9" x2="459" y2="751.5" stroke="#26378c" stroke-width="2.4" />
<line x1="456.1" y1="712.9" x2="461.9" y2="712.9" stroke="#26378c" stroke-width="2" />
<line x1="456.1" y1="751.5" x2="461.9" y2="751.5" stroke="#26378c" stroke-width="2" />
<line x1="459" y1="737" x2="459" y2="775.3" stroke="#e18f2f" stroke-width="2.4" />
<line x1="456.1" y1="737" x2="461.9" y2="737" stroke="#e18f2f" stroke-width="2" />
<line x1="456.1" y1="775.3" x2="461.9" y2="775.3" stroke="#e18f2f" stroke-width="2" />
<line x1="518" y1="655.4" x2="518" y2="729.4" stroke="#26378c" stroke-width="2.4" />
<line x1="515.1" y1="655.4" x2="520.9" y2="655.4" stroke="#26378c" stroke-width="2" />
<line x1="515.1" y1="729.4" x2="520.9" y2="729.4" stroke="#26378c" stroke-width="2" />
<line x1="518" y1="686.1" x2="518" y2="774.9" stroke="#d8282c" stroke-width="2.4" />
<line x1="515.1" y1="686.1" x2="520.9" y2="686.1" stroke="#d8282c" stroke-width="2" />
<line x1="515.1" y1="774.9" x2="520.9" y2="774.9" stroke="#d8282c" stroke-width="2" />
<line x1="518" y1="696.5" x2="518" y2="784.9" stroke="#e18f2f" stroke-width="2.4" />
<line x1="515.1" y1="696.5" x2="520.9" y2="696.5" stroke="#e18f2f" stroke-width="2" />
<line x1="515.1" y1="784.9" x2="520.9" y2="784.9" stroke="#e18f2f" stroke-width="2" />
<line x1="553" y1="648.3" x2="553" y2="678.9" stroke="#26378c" stroke-width="2.4" />
<line x1="550.1" y1="648.3" x2="555.9" y2="648.3" stroke="#26378c" stroke-width="2" />
<line x1="550.1" y1="678.9" x2="555.9" y2="678.9" stroke="#26378c" stroke-width="2" />
<line x1="553" y1="673" x2="553" y2="711" stroke="#d8282c" stroke-width="2.4" />
<line x1="550.1" y1="673" x2="555.9" y2="673" stroke="#d8282c" stroke-width="2" />
<line x1="550.1" y1="711" x2="555.9" y2="711" stroke="#d8282c" stroke-width="2" />
<line x1="553" y1="696.5" x2="553" y2="742" stroke="#e18f2f" stroke-width="2.4" />
<line x1="550.1" y1="696.5" x2="555.9" y2="696.5" stroke="#e18f2f" stroke-width="2" />
<line x1="550.1" y1="742" x2="555.9" y2="742" stroke="#e18f2f" stroke-width="2" />
<line x1="588" y1="643.9" x2="588" y2="690.8" stroke="#26378c" stroke-width="2.4" />
<line x1="585.1" y1="643.9" x2="590.9" y2="643.9" stroke="#26378c" stroke-width="2" />
<line x1="585.1" y1="690.8" x2="590.9" y2="690.8" stroke="#26378c" stroke-width="2" />
<line x1="588" y1="662.4" x2="588" y2="717.7" stroke="#d8282c" stroke-width="2.4" />
<line x1="585.1" y1="662.4" x2="590.9" y2="662.4" stroke="#d8282c" stroke-width="2" />
<line x1="585.1" y1="717.7" x2="590.9" y2="717.7" stroke="#d8282c" stroke-width="2" />
<line x1="588" y1="678.2" x2="588" y2="749.2" stroke="#e18f2f" stroke-width="2.4" />
<line x1="585.1" y1="678.2" x2="590.9" y2="678.2" stroke="#e18f2f" stroke-width="2" />
<line x1="585.1" y1="749.2" x2="590.9" y2="749.2" stroke="#e18f2f" stroke-width="2" />
<circle cx="431.1" cy="734.6" r="1.3" fill="#26378c"/>
<circle cx="459" cy="734.6" r="1.3" fill="#26378c"/>
<line x1="429" y1="701.7" x2="433.2" y2="705.9" stroke="#4848e8" stroke-width="0.9" />
<line x1="429" y1="705.9" x2="433.2" y2="701.7" stroke="#4848e8" stroke-width="0.9" />
<line x1="429" y1="764.8" x2="433.2" y2="769" stroke="#4848e8" stroke-width="0.9" />
<line x1="429" y1="769" x2="433.2" y2="764.8" stroke="#4848e8" stroke-width="0.9" />
<line x1="429" y1="770.2" x2="433.2" y2="774.4" stroke="#4848e8" stroke-width="0.9" />
<line x1="429" y1="774.4" x2="433.2" y2="770.2" stroke="#4848e8" stroke-width="0.9" />
<line x1="456.9" y1="727.4" x2="461.1" y2="731.6" stroke="#4848e8" stroke-width="0.9" />
<line x1="456.9" y1="731.6" x2="461.1" y2="727.4" stroke="#4848e8" stroke-width="0.9" />
<line x1="456.9" y1="758.7" x2="461.1" y2="762.9" stroke="#4848e8" stroke-width="0.9" />
<line x1="456.9" y1="762.9" x2="461.1" y2="758.7" stroke="#4848e8" stroke-width="0.9" />
<line x1="515.9" y1="696.6" x2="520.1" y2="700.8" stroke="#4848e8" stroke-width="0.9" />
<line x1="515.9" y1="700.8" x2="520.1" y2="696.6" stroke="#4848e8" stroke-width="0.9" />
<line x1="515.9" y1="744.1" x2="520.1" y2="748.3" stroke="#4848e8" stroke-width="0.9" />
<line x1="515.9" y1="748.3" x2="520.1" y2="744.1" stroke="#4848e8" stroke-width="0.9" />
<line x1="515.9" y1="755.3" x2="520.1" y2="759.5" stroke="#4848e8" stroke-width="0.9" />
<line x1="515.9" y1="759.5" x2="520.1" y2="755.3" stroke="#4848e8" stroke-width="0.9" />
<line x1="550.9" y1="662.8" x2="555.1" y2="667" stroke="#4848e8" stroke-width="0.9" />
<line x1="550.9" y1="667" x2="555.1" y2="662.8" stroke="#4848e8" stroke-width="0.9" />
<line x1="550.9" y1="722.9" x2="555.1" y2="727.1" stroke="#4848e8" stroke-width="0.9" />
<line x1="550.9" y1="727.1" x2="555.1" y2="722.9" stroke="#4848e8" stroke-width="0.9" />
<line x1="585.9" y1="667.7" x2="590.1" y2="671.9" stroke="#4848e8" stroke-width="0.9" />
<line x1="585.9" y1="671.9" x2="590.1" y2="667.7" stroke="#4848e8" stroke-width="0.9" />
<line x1="585.9" y1="692.6" x2="590.1" y2="696.8" stroke="#4848e8" stroke-width="0.9" />
<line x1="585.9" y1="696.8" x2="590.1" y2="692.6" stroke="#4848e8" stroke-width="0.9" />
<line x1="585.9" y1="719.4" x2="590.1" y2="723.6" stroke="#4848e8" stroke-width="0.9" />
<line x1="585.9" y1="723.6" x2="590.1" y2="719.4" stroke="#4848e8" stroke-width="0.9" />
<rect x="398.7" y="614.5" width="271.2" height="194.7" fill="none" stroke="#4d4d4d" stroke-width="1"/>
<line x1="431.4" y1="614.5" x2="431.4" y2="617.8" stroke="#555" stroke-width="1" />
<line x1="454.3" y1="614.5" x2="454.3" y2="621.5" stroke="#555" stroke-width="1" />
<line x1="462.4" y1="614.5" x2="462.4" y2="615.7" stroke="#555" stroke-width="1" />
<line x1="494.7" y1="614.5" x2="494.7" y2="615.7" stroke="#555" stroke-width="1" />
<line x1="519.7" y1="614.5" x2="519.7" y2="617.5" stroke="#555" stroke-width="1" />
<line x1="553.8" y1="614.5" x2="553.8" y2="624.5" stroke="#555" stroke-width="1" />
<line x1="563.6" y1="614.5" x2="563.6" y2="615.7" stroke="#555" stroke-width="1" />
<line x1="594.7" y1="614.5" x2="594.7" y2="618" stroke="#555" stroke-width="1" />
<line x1="394.4" y1="801.7" x2="398.7" y2="801.7" stroke="#555" stroke-width="1" />
<text x="389.9" y="806.3" font-size="11" fill="#1a1a1a" text-anchor="end" font-weight="normal" font-family='"Liberation Sans", sans-serif' stroke="#1a1a1a" stroke-width="0.18" >0</text>
<line x1="394.4" y1="783.69" x2="398.7" y2="783.69" stroke="#555" stroke-width="1" />
<text x="389.9" y="788.29" font-size="11" fill="#1a1a1a" text-anchor="end" font-weight="normal" font-family='"Liberation Sans", sans-serif' stroke="#1a1a1a" stroke-width="0.18" >10</text>
<line x1="394.4" y1="765.68" x2="398.7" y2="765.68" stroke="#555" stroke-width="1" />
<text x="389.9" y="770.28" font-size="11" fill="#1a1a1a" text-anchor="end" font-weight="normal" font-family='"Liberation Sans", sans-serif' stroke="#1a1a1a" stroke-width="0.18" >20</text>
<line x1="394.4" y1="747.67" x2="398.7" y2="747.67" stroke="#555" stroke-width="1" />
<text x="389.9" y="752.27" font-size="11" fill="#1a1a1a" text-anchor="end" font-weight="normal" font-family='"Liberation Sans", sans-serif' stroke="#1a1a1a" stroke-width="0.18" >30</text>
<line x1="394.4" y1="729.66" x2="398.7" y2="729.66" stroke="#555" stroke-width="1" />
<text x="389.9" y="734.26" font-size="11" fill="#1a1a1a" text-anchor="end" font-weight="normal" font-family='"Liberation Sans", sans-serif' stroke="#1a1a1a" stroke-width="0.18" >40</text>
<line x1="394.4" y1="711.65" x2="398.7" y2="711.65" stroke="#555" stroke-width="1" />
<text x="389.9" y="716.25" font-size="11" fill="#1a1a1a" text-anchor="end" font-weight="normal" font-family='"Liberation Sans", sans-serif' stroke="#1a1a1a" stroke-width="0.18" >50</text>
<line x1="394.4" y1="693.64" x2="398.7" y2="693.64" stroke="#555" stroke-width="1" />
<text x="389.9" y="698.24" font-size="11" fill="#1a1a1a" text-anchor="end" font-weight="normal" font-family='"Liberation Sans", sans-serif' stroke="#1a1a1a" stroke-width="0.18" >60</text>
<line x1="394.4" y1="675.63" x2="398.7" y2="675.63" stroke="#555" stroke-width="1" />
<text x="389.9" y="680.23" font-size="11" fill="#1a1a1a" text-anchor="end" font-weight="normal" font-family='"Liberation Sans", sans-serif' stroke="#1a1a1a" stroke-width="0.18" >70</text>
<line x1="394.4" y1="657.62" x2="398.7" y2="657.62" stroke="#555" stroke-width="1" />
<text x="389.9" y="662.22" font-size="11" fill="#1a1a1a" text-anchor="end" font-weight="normal" font-family='"Liberation Sans", sans-serif' stroke="#1a1a1a" stroke-width="0.18" >80</text>
<line x1="394.4" y1="639.61" x2="398.7" y2="639.61" stroke="#555" stroke-width="1" />
<text x="389.9" y="644.21" font-size="11" fill="#1a1a1a" text-anchor="end" font-weight="normal" font-family='"Liberation Sans", sans-serif' stroke="#1a1a1a" stroke-width="0.18" >90</text>
<line x1="394.4" y1="621.6" x2="398.7" y2="621.6" stroke="#555" stroke-width="1" />
<text x="389.9" y="626.2" font-size="11" fill="#1a1a1a" text-anchor="end" font-weight="normal" font-family='"Liberation Sans", sans-serif' stroke="#1a1a1a" stroke-width="0.18" >100</text>
<line x1="408.3" y1="809.2" x2="408.3" y2="813.4" stroke="#555" stroke-width="1" />
<text x="408.3" y="824.7" font-size="10.8" fill="#1a1a1a" text-anchor="middle" font-weight="normal" font-family='"Liberation Sans", sans-serif' stroke="#1a1a1a" stroke-width="0.18" >0</text>
<line x1="439.74" y1="809.2" x2="439.74" y2="813.4" stroke="#555" stroke-width="1" />
<text x="439.74" y="824.7" font-size="10.8" fill="#1a1a1a" text-anchor="middle" font-weight="normal" font-family='"Liberation Sans", sans-serif' stroke="#1a1a1a" stroke-width="0.18" >10</text>
<line x1="471.18" y1="809.2" x2="471.18" y2="813.4" stroke="#555" stroke-width="1" />
<text x="471.18" y="824.7" font-size="10.8" fill="#1a1a1a" text-anchor="middle" font-weight="normal" font-family='"Liberation Sans", sans-serif' stroke="#1a1a1a" stroke-width="0.18" >20</text>
<line x1="502.62" y1="809.2" x2="502.62" y2="813.4" stroke="#555" stroke-width="1" />
<text x="502.62" y="824.7" font-size="10.8" fill="#1a1a1a" text-anchor="middle" font-weight="normal" font-family='"Liberation Sans", sans-serif' stroke="#1a1a1a" stroke-width="0.18" >30</text>
<line x1="534.06" y1="809.2" x2="534.06" y2="813.4" stroke="#555" stroke-width="1" />
<text x="534.06" y="824.7" font-size="10.8" fill="#1a1a1a" text-anchor="middle" font-weight="normal" font-family='"Liberation Sans", sans-serif' stroke="#1a1a1a" stroke-width="0.18" >40</text>
<line x1="565.5" y1="809.2" x2="565.5" y2="813.4" stroke="#555" stroke-width="1" />
<text x="565.5" y="824.7" font-size="10.8" fill="#1a1a1a" text-anchor="middle" font-weight="normal" font-family='"Liberation Sans", sans-serif' stroke="#1a1a1a" stroke-width="0.18" >50</text>
<line x1="596.94" y1="809.2" x2="596.94" y2="813.4" stroke="#555" stroke-width="1" />
<text x="596.94" y="824.7" font-size="10.8" fill="#1a1a1a" text-anchor="middle" font-weight="normal" font-family='"Liberation Sans", sans-serif' stroke="#1a1a1a" stroke-width="0.18" >60</text>
<line x1="628.38" y1="809.2" x2="628.38" y2="813.4" stroke="#555" stroke-width="1" />
<text x="628.38" y="824.7" font-size="10.8" fill="#1a1a1a" text-anchor="middle" font-weight="normal" font-family='"Liberation Sans", sans-serif' stroke="#1a1a1a" stroke-width="0.18" >70</text>
<line x1="659.82" y1="809.2" x2="659.82" y2="813.4" stroke="#555" stroke-width="1" />
<text x="659.82" y="824.7" font-size="10.8" fill="#1a1a1a" text-anchor="middle" font-weight="normal" font-family='"Liberation Sans", sans-serif' stroke="#1a1a1a" stroke-width="0.18" >80</text>
<text x="465.6" y="840.7" font-size="13" fill="#1a1a1a" text-anchor="start" font-weight="normal" font-family='"Liberation Sans", sans-serif' stroke="#1a1a1a" stroke-width="0.18" textLength="101.2" lengthAdjust="spacingAndGlyphs">Predicted OS (%)</text>
<text x="0" y="0" transform="translate(371.7,711.5) rotate(-90)" font-size="12.9" fill="#1a1a1a" text-anchor="middle" font-family='"Liberation Sans", sans-serif' textLength="101.5" lengthAdjust="spacingAndGlyphs">Observed OS (%)</text>
<line x1="615.1" y1="789.5" x2="628.1" y2="789.5" stroke="#4a55a8" stroke-width="1.1" />
<text x="633" y="792.4" font-size="8.2" fill="#222" text-anchor="start" font-weight="normal" font-family='"Liberation Sans", sans-serif' stroke="#222" stroke-width="0.18" textLength="25.4" lengthAdjust="spacingAndGlyphs">1&#8722;year</text>
<line x1="615.1" y1="795.9" x2="628.1" y2="795.9" stroke="#e0606c" stroke-width="1.1" />
<text x="633" y="798.8" font-size="8.2" fill="#222" text-anchor="start" font-weight="normal" font-family='"Liberation Sans", sans-serif' stroke="#222" stroke-width="0.18" textLength="25.4" lengthAdjust="spacingAndGlyphs">2&#8722;year</text>
<line x1="615.1" y1="802.6" x2="628.1" y2="802.6" stroke="#d9923a" stroke-width="1.1" />
<text x="633" y="805.5" font-size="8.2" fill="#222" text-anchor="start" font-weight="normal" font-family='"Liberation Sans", sans-serif' stroke="#222" stroke-width="0.18" textLength="25.4" lengthAdjust="spacingAndGlyphs">3&#8722;year</text>
<text x="351.8" y="626.6" font-size="19" fill="#000" text-anchor="start" font-weight="normal" font-family='"Liberation Serif", serif'  >F</text>
</svg>
</body></html>
